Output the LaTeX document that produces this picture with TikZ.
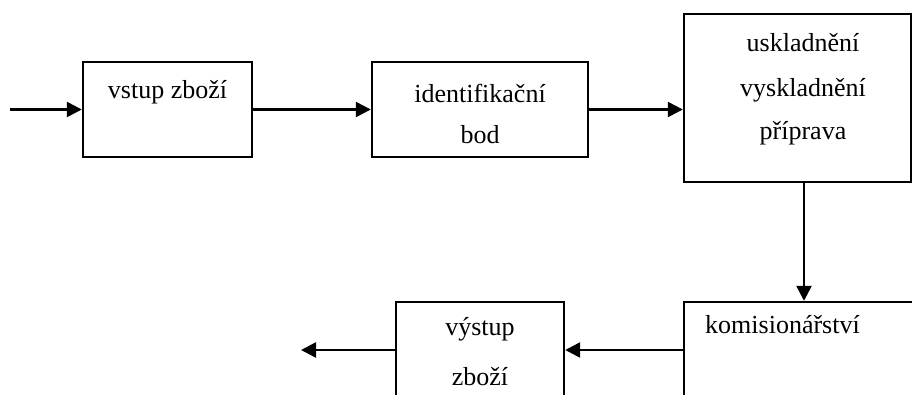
\documentclass[tikz,border=0pt]{standalone}
\usepackage{fontspec}
\setmainfont{Liberation Serif}
\usetikzlibrary{arrows.meta}
\begin{document}
\begin{tikzpicture}[x=1pt,y=-1pt,
  box/.style={draw,line width=2.4pt,inner sep=0pt,rectangle},
  lbl/.style={font=\fontsize{26}{30}\selectfont,inner sep=0pt},
  arr/.style={line width=2.5pt,-{Triangle[length=15pt,width=15pt]}}]
\useasboundingbox (0,0) rectangle (912,394);
\clip (0,0) rectangle (912,394);
% boxes
\node[box,minimum width=169pt,minimum height=95pt] (b1) at (167.5,109.5) {};
\node[box,minimum width=216pt,minimum height=95pt] (b2) at (480,109.5) {};
\node[box,minimum width=227pt,minimum height=168pt] (b3) at (797.5,98) {};
\node[box,minimum width=316pt,minimum height=148pt] (b4) at (842,376) {};
\node[box,minimum width=168pt,minimum height=148pt] (b5) at (480,376) {};
% labels
\node[lbl] (t1) at (167.5,92) {vstup zboží};
\node[lbl] (t2a) at (480,93) {identifikační};
\node[lbl] (t2b) at (480,135) {bod};
\node[lbl] (t3a) at (803,43) {uskladnění};
\node[lbl] (t3b) at (803,90) {vyskladnění};
\node[lbl] (t3c) at (803,133) {příprava};
\node[lbl,anchor=west] (t4) at (705,325) {komisionářství};
\node[lbl] (t5a) at (480,329) {výstup};
\node[lbl] (t5b) at (480,377) {zboží};
% connectors
\coordinate (in) at (10,109.5);
\coordinate (out) at (301,350);
\coordinate (b3s) at (804,182);
\coordinate (b4w) at (684,350);
\draw[arr] (in) -- (b1.west);
\draw[arr] (b1.east) -- (b2.west);
\draw[arr] (b2.east) -- (b2.east -| b3.west);
\draw[arr] (b3s) -- (b3s |- b4.north);
\draw[arr] (b4w) -- (b4w -| b5.east);
\draw[arr] (b4w -| b5.west) -- (out);
\end{tikzpicture}
\end{document}
